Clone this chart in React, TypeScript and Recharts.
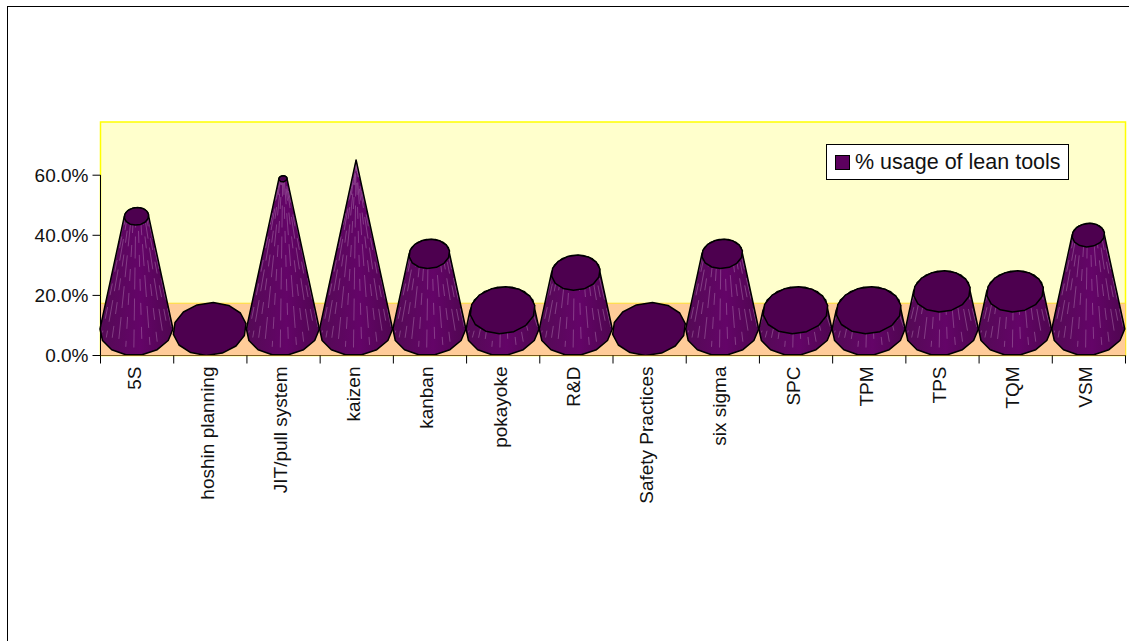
import { BarChart, Bar, XAxis, YAxis, ReferenceArea, Legend } from "recharts";

const FONT = "'Liberation Sans', Arial, sans-serif";
const SERIES_NAME = "% usage of lean tools";

const tools = [
  "5S",
  "hoshin planning",
  "JIT/pull system",
  "kaizen",
  "kanban",
  "pokayoke",
  "R&D",
  "Safety  Practices",
  "six sigma",
  "SPC",
  "TPM",
  "TPS",
  "TQM",
  "VSM",
];
const usage = [37.5, 0, 50, 56.25, 25, 6.25, 18.75, 0, 25, 6.25, 6.25, 12.5, 12.5, 31.25];
const yTicks = [0, 20, 40, 60];

const data = tools.map((tool, i) => ({ tool, usage: usage[i] }));
const peak = Math.max(...usage);

// the floor of the 3D box reaches this value on the axis
const FLOOR_VALUE = 17.4;
const AXIS_MAX = 77.7;

const BASE_RY = 26.5;
const SKEW = 0.1;
const SIDES = 14;

type Pt = [number, number];

const onRing = (cx: number, cy: number, rx: number, ry: number, t: number): Pt => [
  cx + rx * Math.cos(t) + SKEW * ry * Math.sin(t),
  cy - ry * Math.sin(t),
];

function ring(cx: number, cy: number, rx: number, ry: number, from: number, to: number, steps: number) {
  const pts: Pt[] = [];
  for (let i = 0; i <= steps; i++) {
    pts.push(onRing(cx, cy, rx, ry, from + ((to - from) * i) / steps));
  }
  return pts;
}

const toPath = (pts: Pt[]) =>
  pts.map((p, i) => `${i ? "L" : "M"}${p[0].toFixed(1)} ${p[1].toFixed(1)}`).join(" ") + " Z";

function Cone(props: any) {
  const { x, y, width, height, payload } = props;
  const cx = x + width / 2 - 0.5;
  const baseRx = width / 2;
  const baseY = y + height - BASE_RY;
  const topY = y - BASE_RY;
  const k = 1 - payload.usage / peak;
  const topRx = baseRx * k;
  const topRy = BASE_RY * k;

  const base = ring(cx, baseY, baseRx, BASE_RY, Math.PI, 2 * Math.PI, SIDES / 2);
  const top = ring(cx, topY, topRx, topRy, 0, Math.PI, SIDES / 2);
  const cap = ring(cx, topY, topRx, topRy, 0.2, 0.2 + 2 * Math.PI, SIDES);

  // light seams between the facets, running up the visible side
  const seams = [];
  if (payload.usage > 0) {
    const n = 14;
    for (let i = 1; i < n; i++) {
      const t = Math.PI + (Math.PI * i) / n;
      const [x1, y1] = onRing(cx, baseY, baseRx, BASE_RY, t);
      const [x2, y2] = onRing(cx, topY, topRx, topRy, t);
      seams.push(
        <line
          key={i}
          x1={x1}
          y1={y1 - 8}
          x2={x2}
          y2={y2}
          stroke="#b98ab9"
          strokeOpacity={0.42}
          strokeWidth={1}
          strokeDasharray={i % 2 ? "22 9" : "12 12"}
          strokeDashoffset={i * 5}
        />
      );
    }
  }

  return (
    <g>
      {payload.usage > 0 && <path d={toPath([...base, ...top])} fill="url(#coneSide)" />}
      {seams}
      {payload.usage > 0 && (
        <path
          d={toPath([...base, ...top])}
          fill="none"
          stroke="#000"
          strokeWidth={1.5}
          strokeLinejoin="round"
        />
      )}
      {topRx > 0 && (
        <path d={toPath(cap)} fill="#4d004f" stroke="#000" strokeWidth={1.5} strokeLinejoin="round" />
      )}
    </g>
  );
}

function ValueTick({ x, y, payload }: any) {
  return (
    <g>
      {payload.value < 60 && <line x1={x + 8} x2={x + 8} y1={y} y2={y - 60.2} stroke="#000" />}
      <line x1={x} x2={x + 8} y1={y} y2={y} stroke="#000" />
      <text x={x - 4} y={y + 6.5} textAnchor="end" fontFamily={FONT} fontSize={19} fill="#111">
        {payload.value.toFixed(1)}%
      </text>
    </g>
  );
}

function ToolTick({ x, y, payload }: any) {
  const half = 36.6;
  return (
    <g>
      <line x1={x - half} x2={x - half} y1={y - 8} y2={y} stroke="#000" />
      {payload.index === tools.length - 1 && (
        <line x1={x + half} x2={x + half} y1={y - 8} y2={y} stroke="#000" />
      )}
      <text
        transform={`translate(${x - 3},${y + 3}) rotate(-90)`}
        textAnchor="end"
        dy={6.5}
        fontFamily={FONT}
        fontSize={19}
        fill="#111"
      >
        {payload.value}
      </text>
    </g>
  );
}

function LegendBox() {
  return (
    <div
      style={{
        display: "flex",
        alignItems: "center",
        boxSizing: "border-box",
        width: 243,
        height: 36,
        paddingLeft: 8,
        background: "#fff",
        border: "1px solid #000",
        fontFamily: FONT,
        fontSize: 21.5,
        color: "#111",
      }}
    >
      <span
        style={{
          width: 13,
          height: 13,
          marginRight: 5,
          background: "#5c005e",
          border: "1px solid #000",
        }}
      />
      {SERIES_NAME}
    </div>
  );
}

export default function App() {
  return (
    <div style={{ position: "fixed", left: 0, top: 0, width: 1129, height: 641, overflow: "hidden", background: "#fff" }}>
      <div
        style={{
          position: "absolute",
          left: 7,
          top: 6,
          width: 1200,
          height: 700,
          border: "1px solid #000",
        }}
      />
      <BarChart
        width={1129}
        height={641}
        data={data}
        barCategoryGap={0}
        margin={{ top: 122, right: 3.5, bottom: 85.5, left: 40.5 }}
        style={{ position: "absolute", left: 0, top: 0 }}
      >
        <defs>
          <linearGradient id="coneSide" x1="0" y1="0" x2="1" y2="0">
            <stop offset="0" stopColor="#540a55" />
            <stop offset="0.55" stopColor="#640468" />
            <stop offset="1" stopColor="#4f0650" />
          </linearGradient>
        </defs>
        <XAxis
          dataKey="tool"
          interval={0}
          height={200}
          tickSize={8}
          tickMargin={0}
          axisLine={{ stroke: "#7a5a1e" }}
          tickLine={false}
          tick={<ToolTick />}
        />
        <YAxis
          domain={[0, AXIS_MAX]}
          ticks={yTicks}
          width={60}
          tickSize={8}
          tickMargin={0}
          axisLine={false}
          tickLine={false}
          allowDataOverflow
          tick={<ValueTick />}
        />
        <ReferenceArea y1={0} y2={AXIS_MAX} fill="#ffffcc" fillOpacity={1} stroke="#ffff00" strokeWidth={1.5} />
        <ReferenceArea y1={0} y2={FLOOR_VALUE} fill="#ffcc99" fillOpacity={1} stroke="#ffdd33" strokeWidth={1} />
        <Legend
          content={<LegendBox />}
          layout="vertical"
          align="center"
          verticalAlign="middle"
          wrapperStyle={{ left: 826, top: 144, width: 243 }}
        />
        <Bar dataKey="usage" name={SERIES_NAME} shape={<Cone />} isAnimationActive={false} />
      </BarChart>
    </div>
  );
}
